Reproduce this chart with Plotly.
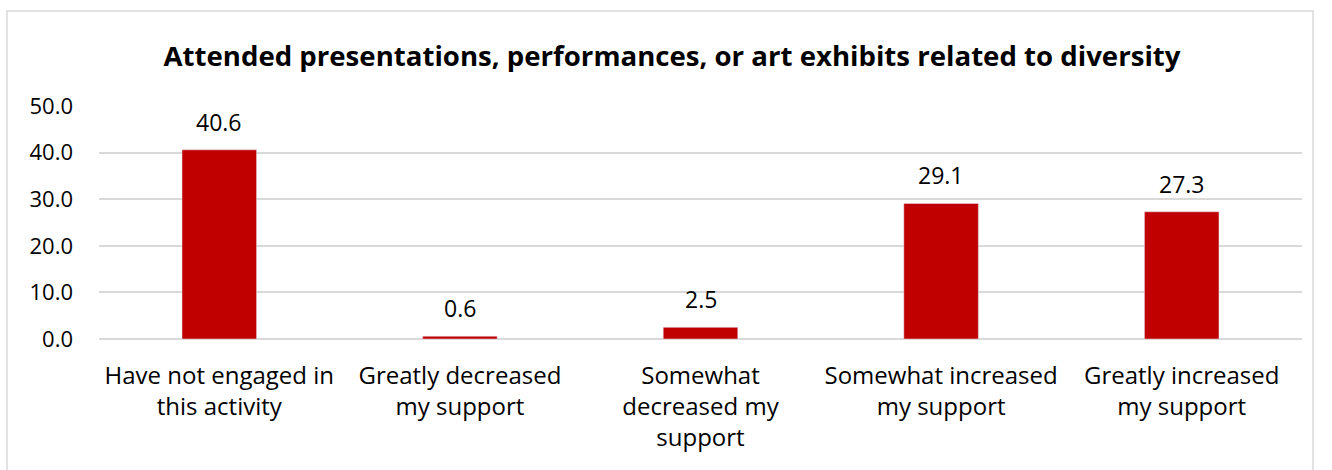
import plotly.graph_objects as go

categories = ["Have not engaged in<br>this activity", "Greatly decreased<br>my support",
              "Somewhat<br>decreased my<br>support", "Somewhat increased<br>my support",
              "Greatly increased<br>my support"]
values = [40.6, 0.6, 2.5, 29.1, 27.3]
title = "Attended presentations, performances, or art exhibits related to diversity"

FONT = "Open Sans"
L, R, T, B = 99, 30, 106, 131
W, H = 1332, 470
pw, ph = W - L - R, H - T - B

fig = go.Figure(go.Bar(
    x=categories, y=values, marker_color="#C00000", width=0.31, hoverinfo="skip",
))

for c, v in zip(categories, values):
    fig.add_annotation(x=c, y=v, text=f"{v:.1f}", showarrow=False, yanchor="bottom",
                       yshift=10, font=dict(size=23, color="#000000", family=FONT))

def px2x(p):
    return (p - L) / pw

def py2y(p):
    return (H - B - p) / ph

fig.update_layout(
    width=W, height=H, margin=dict(l=L, r=R, t=T, b=B),
    paper_bgcolor="white", plot_bgcolor="white",
    title=dict(text=f"<b>{title}</b>", x=672 / W, xanchor="center",
               y=1 - 56 / H, yanchor="middle", font=dict(size=27.6, family=FONT, color="#000000")),
    font=dict(family=FONT, size=23, color="#000000"),
    showlegend=False, bargap=0.69,
    yaxis=dict(range=[0, 50], dtick=10, tickformat=".1f", showgrid=True, gridcolor="#D9D9D9",
               gridwidth=1.5, zeroline=True, zerolinecolor="#D9D9D9", zerolinewidth=1.5,
               tickfont=dict(size=22, family=FONT, color="#000000"), ticks="", ticklabelstandoff=25),
    xaxis=dict(tickfont=dict(size=24, family=FONT, color="#000000"), showline=False, ticks="",
               ticklabelstandoff=20),
    shapes=[dict(type="rect", xref="paper", yref="paper",
                 x0=px2x(7), x1=px2x(1313), y0=py2y(500), y1=py2y(11),
                 line=dict(color="#D9D9D9", width=1.5), fillcolor="rgba(0,0,0,0)", layer="below")],
)

fig.write_html("out.html", config={"displayModeBar": False},
               post_script="document.body.style.margin='0';")
